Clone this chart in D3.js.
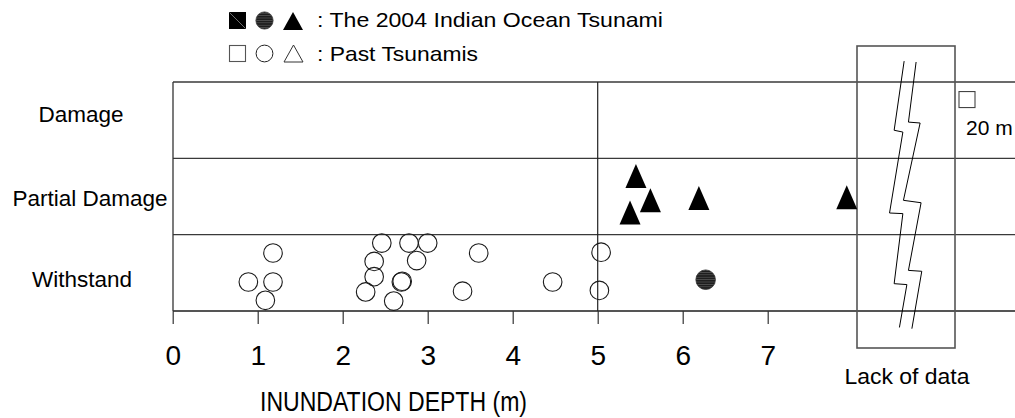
<!DOCTYPE html>
<html>
<head>
<meta charset="utf-8">
<script src="https://cdn.jsdelivr.net/npm/d3@7"></script>
<style>
  body { margin: 0; background: #fff; }
  text { font-family: "Liberation Sans", Arial, sans-serif; fill: #000; }
</style>
</head>
<body>
<svg id="chart" width="1015" height="418"></svg>
<script>
// ---- data ----
const damageLevels = ["Withstand", "Partial Damage", "Damage"];
const xTickValues = [0, 1, 2, 3, 4, 5, 6, 7];

// Past tsunamis, structures that withstood (open circles)
const pastCircleDepth = [1.18, 0.89, 1.18, 1.09, 2.46, 2.78, 3.00, 2.37, 2.87, 2.37,
                         2.69, 2.70, 2.27, 2.60, 3.60, 3.41, 4.47, 5.04, 5.02];
// vertical position inside the damage rows (0-1 Withstand, 1-2 Partial, 2-3 Damage)
const pastCircleRow   = [0.76, 0.38, 0.38, 0.14, 0.89, 0.89, 0.89, 0.65, 0.66, 0.45,
                         0.38, 0.39, 0.25, 0.13, 0.76, 0.26, 0.38, 0.77, 0.27];

// Past tsunamis, damaged structures (open squares)
const pastSquareDepth = [20];
const pastSquareRow   = [2.77];

// 2004 Indian Ocean Tsunami, withstood (hatched circle)
const tsunami2004CircleDepth = [6.27];
const tsunami2004CircleRow   = [0.41];

// 2004 Indian Ocean Tsunami, partial damage (filled triangles)
const tsunami2004TriDepth = [5.45, 5.62, 5.38, 6.19, 7.93];
const tsunami2004TriRow   = [1.77, 1.45, 1.29, 1.48, 1.49];

const legendLines = [": The 2004 Indian Ocean Tsunami", ": Past Tsunamis"];

// ---- layout ----
const W = 1015, H = 418;
const plot = { left: 173, right: 1015, top: 82, bottom: 311 };
const gapBox = { left: 857, right: 955, top: 46, bottom: 348 };

const svg = d3.select("#chart");

// broken axis: 0–8 m linear, then a jump to the 20 m case beyond the gap
const x = d3.scaleLinear().domain([0, 8, 20]).range([172.7, 852.7, 967]);
const y = d3.scaleLinear().domain([0, 3]).range([plot.bottom, plot.top]);

// hatch pattern for the 2004 circle
const defs = svg.append("defs");
const pat = defs.append("pattern").attr("id", "hatch")
  .attr("patternUnits", "userSpaceOnUse").attr("width", 6).attr("height", 2.4);
pat.append("rect").attr("width", 6).attr("height", 2.4).attr("fill", "#1e1e1e");
pat.append("line").attr("x1", 0).attr("x2", 6).attr("y1", 1.2).attr("y2", 1.2)
  .attr("stroke", "#6a6a6a").attr("stroke-width", 0.6);

const triPath = (w, h) => `M0,${-h / 2}L${w / 2},${h / 2}L${-w / 2},${h / 2}Z`;

// ---- grid / frame ----
const grid = svg.append("g");
[0, 1, 2, 3].forEach(v => {
  grid.append("line")
    .attr("x1", plot.left).attr("x2", plot.right)
    .attr("y1", y(v)).attr("y2", y(v))
    .attr("stroke", v === 0 ? "#555" : "#3a3a3a")
    .attr("stroke-width", v === 0 ? 2 : 1.3);
});
grid.append("line")
  .attr("x1", plot.left).attr("x2", plot.left)
  .attr("y1", plot.top).attr("y2", plot.bottom)
  .attr("stroke", "#333").attr("stroke-width", 1.3);
grid.append("line")
  .attr("x1", x(5)).attr("x2", x(5))
  .attr("y1", plot.top).attr("y2", plot.bottom)
  .attr("stroke", "#222").attr("stroke-width", 1.2);

// x axis ticks and labels
const xAxis = d3.axisBottom(x).tickValues(xTickValues).tickSize(13).tickPadding(8)
  .tickFormat(d3.format("d"));
const ax = svg.append("g").attr("transform", `translate(0,${plot.bottom})`).call(xAxis);
ax.select(".domain").remove();
ax.selectAll(".tick line").attr("stroke", "#333").attr("stroke-width", 1.2);
ax.selectAll(".tick text")
  .attr("y", null).attr("dy", null)
  .attr("y", 54)
  .style("font-size", "28px")
  .style("font-family", '"Liberation Sans", Arial, sans-serif')
  .attr("fill", "#000");

// row labels
const rowLabelPos = { "Withstand": [82, 287], "Partial Damage": [90, 206], "Damage": [81, 122] };
svg.append("g").selectAll("text").data(damageLevels).join("text")
  .attr("x", d => rowLabelPos[d][0])
  .attr("y", d => rowLabelPos[d][1])
  .attr("text-anchor", "middle")
  .style("font-size", "22.5px")
  .text(d => d);

// axis title
svg.append("text")
  .attr("x", 260).attr("y", 411)
  .attr("textLength", 267).attr("lengthAdjust", "spacingAndGlyphs")
  .style("font-size", "27px")
  .text("INUNDATION DEPTH (m)");

// ---- lack-of-data gap ----
const gap = svg.append("g");
gap.append("rect")
  .attr("x", gapBox.left).attr("y", gapBox.top)
  .attr("width", gapBox.right - gapBox.left).attr("height", gapBox.bottom - gapBox.top)
  .attr("fill", "none").attr("stroke", "#555").attr("stroke-width", 1.6);

// zig-zag break marks, as fractions of the gap box
const boltA = [[0.481, 0.050], [0.379, 0.279], [0.468, 0.285], [0.332, 0.553],
               [0.468, 0.555], [0.379, 0.787], [0.509, 0.790], [0.433, 0.932]];
const boltB = [[0.603, 0.053], [0.525, 0.252], [0.644, 0.255], [0.474, 0.511],
               [0.654, 0.519], [0.525, 0.743], [0.661, 0.746], [0.560, 0.936]];
const bx = d3.scaleLinear().range([gapBox.left, gapBox.right]);
const by = d3.scaleLinear().range([gapBox.top, gapBox.bottom]);
const boltLine = d3.line().x(d => bx(d[0])).y(d => by(d[1]));
[boltA, boltB].forEach(b => {
  gap.append("path").attr("d", boltLine(b))
    .attr("fill", "none").attr("stroke", "#000").attr("stroke-width", 1);
});

svg.append("text")
  .attr("x", 907).attr("y", 384)
  .attr("text-anchor", "middle")
  .attr("textLength", 125).attr("lengthAdjust", "spacingAndGlyphs")
  .style("font-size", "22px")
  .text("Lack of data");

// ---- data marks ----
const marks = svg.append("g");

marks.selectAll("circle.past").data(pastCircleDepth).join("circle")
  .attr("class", "past")
  .attr("cx", d => x(d))
  .attr("cy", (d, i) => y(pastCircleRow[i]))
  .attr("r", 9.3)
  .attr("fill", "none").attr("stroke", "#1a1a1a").attr("stroke-width", 1.1);

marks.selectAll("circle.t2004").data(tsunami2004CircleDepth).join("circle")
  .attr("class", "t2004")
  .attr("cx", d => x(d))
  .attr("cy", (d, i) => y(tsunami2004CircleRow[i]))
  .attr("r", 9.8)
  .attr("fill", "url(#hatch)").attr("stroke", "#333").attr("stroke-width", 0.8);

marks.selectAll("path.tri").data(tsunami2004TriDepth).join("path")
  .attr("class", "tri")
  .attr("d", triPath(21, 24))
  .attr("transform", (d, i) => `translate(${x(d)},${y(tsunami2004TriRow[i])})`)
  .attr("fill", "#000");

marks.selectAll("rect.sq").data(pastSquareDepth).join("rect")
  .attr("class", "sq")
  .attr("x", d => x(d) - 8).attr("y", (d, i) => y(pastSquareRow[i]) - 8)
  .attr("width", 16).attr("height", 16)
  .attr("fill", "#fff").attr("stroke", "#444").attr("stroke-width", 1.1);

marks.selectAll("text.sqlab").data(pastSquareDepth).join("text")
  .attr("class", "sqlab")
  .attr("x", d => x(d) - 1).attr("y", (d, i) => y(pastSquareRow[i]) + 35.5)
  .style("font-size", "21px")
  .text(d => `${d} m`);

// ---- legend ----
const lg = svg.append("g");
// row 1: 2004 tsunami symbols
lg.append("rect").attr("x", 229).attr("y", 12).attr("width", 17).attr("height", 17).attr("fill", "#000");
lg.append("line").attr("x1", 229.5).attr("y1", 12.5).attr("x2", 245.5).attr("y2", 28.5)
  .attr("stroke", "#8a8a8a").attr("stroke-width", 0.8);
lg.append("circle").attr("cx", 264.5).attr("cy", 20.5).attr("r", 8.6)
  .attr("fill", "url(#hatch)").attr("stroke", "#333").attr("stroke-width", 0.8);
lg.append("path").attr("d", triPath(20, 18)).attr("transform", "translate(293,21)").attr("fill", "#000");
// row 2: past tsunami symbols
lg.append("rect").attr("x", 229.5).attr("y", 45.5).attr("width", 16).attr("height", 16)
  .attr("fill", "none").attr("stroke", "#555").attr("stroke-width", 1.1);
lg.append("circle").attr("cx", 264.5).attr("cy", 53.5).attr("r", 8.4)
  .attr("fill", "none").attr("stroke", "#222").attr("stroke-width", 1);
lg.append("path").attr("d", triPath(19, 17)).attr("transform", "translate(293.5,53.5)")
  .attr("fill", "none").attr("stroke", "#333").attr("stroke-width", 1);

lg.selectAll("text").data(legendLines).join("text")
  .attr("x", 317)
  .attr("y", (d, i) => i === 0 ? 27 : 61)
  .attr("textLength", (d, i) => i === 0 ? 346 : 161)
  .attr("lengthAdjust", "spacingAndGlyphs")
  .style("font-size", "21px")
  .text(d => d);
</script>
</body>
</html>
